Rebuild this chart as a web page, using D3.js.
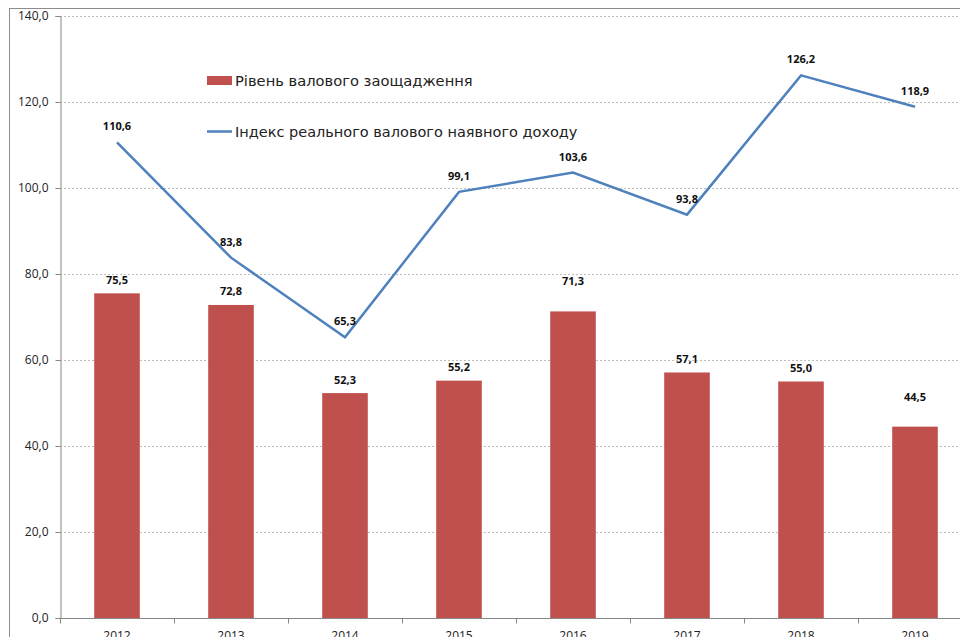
<!DOCTYPE html>
<html>
<head>
<meta charset="utf-8">
<script src="https://cdn.jsdelivr.net/npm/d3@7"></script>
<style>
html,body{margin:0;padding:0;background:#fff;}
svg{display:block;}
</style>
</head>
<body>
<svg id="chart" width="960" height="637"></svg>
<script>
const years = ["2012","2013","2014","2015","2016","2017","2018","2019"];
const savingsRate = [75.5, 72.8, 52.3, 55.2, 71.3, 57.1, 55.0, 44.5];
const incomeIndex = [110.6, 83.8, 65.3, 99.1, 103.6, 93.8, 126.2, 118.9];
const yTicks = [0, 20, 40, 60, 80, 100, 120, 140];
const seriesNames = ["Рівень валового заощадження", "Індекс реального валового наявного доходу"];
// manually raised bar labels (as in the original)
const barLabelRaised = [false, false, false, false, true, false, false, true];

const svg = d3.select("#chart");
const W = 960, H = 637;
const plotLeft = 60, plotRight = 972, plotTop = 16, plotBottom = 618;
const fmt = v => d3.format(".1f")(v).replace(".", ",");
const labelFont = "'Open Sans', 'DejaVu Sans', sans-serif";

svg.append("rect").attr("width", W).attr("height", H).attr("fill", "#fff");

// outer frame
svg.append("rect").attr("x", 9.5).attr("y", 8.5).attr("width", 1000).attr("height", 700)
  .attr("fill", "none").attr("stroke", "#8c8c8c").attr("stroke-width", 1);

const x = d3.scaleBand().domain(years).range([plotLeft, plotRight]).paddingInner(0.6).paddingOuter(0.3);
const step = x.step();
const y = d3.scaleLinear().domain([0, 140]).range([plotBottom, plotTop]);

// gridlines
svg.append("g").selectAll("line").data(yTicks.filter(d => d > 0)).join("line")
  .attr("x1", plotLeft).attr("x2", plotRight)
  .attr("y1", d => Math.round(y(d)) + 0.5).attr("y2", d => Math.round(y(d)) + 0.5)
  .attr("stroke", "#bdbdbd").attr("stroke-dasharray", "2,2").attr("stroke-width", 1);

// Y axis
const yAxis = d3.axisLeft(y).tickValues(yTicks).tickFormat(fmt).tickSize(5).tickPadding(7);
const gy = svg.append("g").attr("transform", `translate(${plotLeft + 0.5},0)`).call(yAxis);
gy.select(".domain").attr("stroke", "#868686");
gy.selectAll(".tick line").attr("stroke", "#868686");
gy.selectAll(".tick text").attr("font-family", labelFont).attr("font-size", 12).attr("fill", "#222");

// bars
svg.append("g").selectAll("rect").data(savingsRate).join("rect")
  .attr("x", (d, i) => x(years[i]))
  .attr("y", d => y(d))
  .attr("width", x.bandwidth())
  .attr("height", d => plotBottom - y(d))
  .attr("fill", "#C0504D");

// X axis
const gx = svg.append("g").attr("transform", `translate(0,${plotBottom + 0.5})`);
gx.append("line").attr("x1", plotLeft).attr("x2", plotRight).attr("stroke", "#868686");
const boundaries = d3.range(0, years.length + 1).map(i => plotLeft + i * step);
gx.selectAll("line.tk").data(boundaries).join("line").attr("class", "tk")
  .attr("x1", d => Math.round(d) + 0.5).attr("x2", d => Math.round(d) + 0.5)
  .attr("y1", 0).attr("y2", 5).attr("stroke", "#868686");
gx.selectAll("text").data(years).join("text")
  .attr("x", d => x(d) + x.bandwidth() / 2).attr("y", 21)
  .attr("text-anchor", "middle").attr("font-family", labelFont).attr("font-size", 12).attr("fill", "#222")
  .text(d => d);

// line
const line = d3.line().x((d, i) => x(years[i]) + x.bandwidth() / 2).y(d => y(d));
svg.append("path").datum(incomeIndex).attr("d", line)
  .attr("fill", "none").attr("stroke", "#4F81BD").attr("stroke-width", 2.5)
  .attr("stroke-linejoin", "miter");

// bar labels
svg.append("g").selectAll("text").data(savingsRate).join("text")
  .attr("x", (d, i) => x(years[i]) + x.bandwidth() / 2)
  .attr("y", (d, i) => y(d) - (barLabelRaised[i] ? 26 : 9.5))
  .attr("text-anchor", "middle").attr("font-family", labelFont).attr("font-weight", "bold")
  .attr("font-size", 11).attr("fill", "#111").text(fmt);

// line labels
svg.append("g").selectAll("text").data(incomeIndex).join("text")
  .attr("x", (d, i) => x(years[i]) + x.bandwidth() / 2)
  .attr("y", d => y(d) - 12)
  .attr("text-anchor", "middle").attr("font-family", labelFont).attr("font-weight", "bold")
  .attr("font-size", 11).attr("fill", "#111").text(fmt);

// legend
const lg = svg.append("g");
lg.append("rect").attr("x", 207).attr("y", 76).attr("width", 25).attr("height", 9).attr("fill", "#C0504D");
lg.append("text").attr("x", 235).attr("y", 86).attr("font-family", "'DejaVu Sans', sans-serif")
  .attr("font-size", 14.7).attr("fill", "#222").text(seriesNames[0]);
lg.append("line").attr("x1", 207).attr("x2", 232).attr("y1", 131.5).attr("y2", 131.5)
  .attr("stroke", "#4F81BD").attr("stroke-width", 2.5);
lg.append("text").attr("x", 235).attr("y", 137).attr("font-family", "'DejaVu Sans', sans-serif")
  .attr("font-size", 14.5).attr("fill", "#222").text(seriesNames[1]);
</script>
</body>
</html>
